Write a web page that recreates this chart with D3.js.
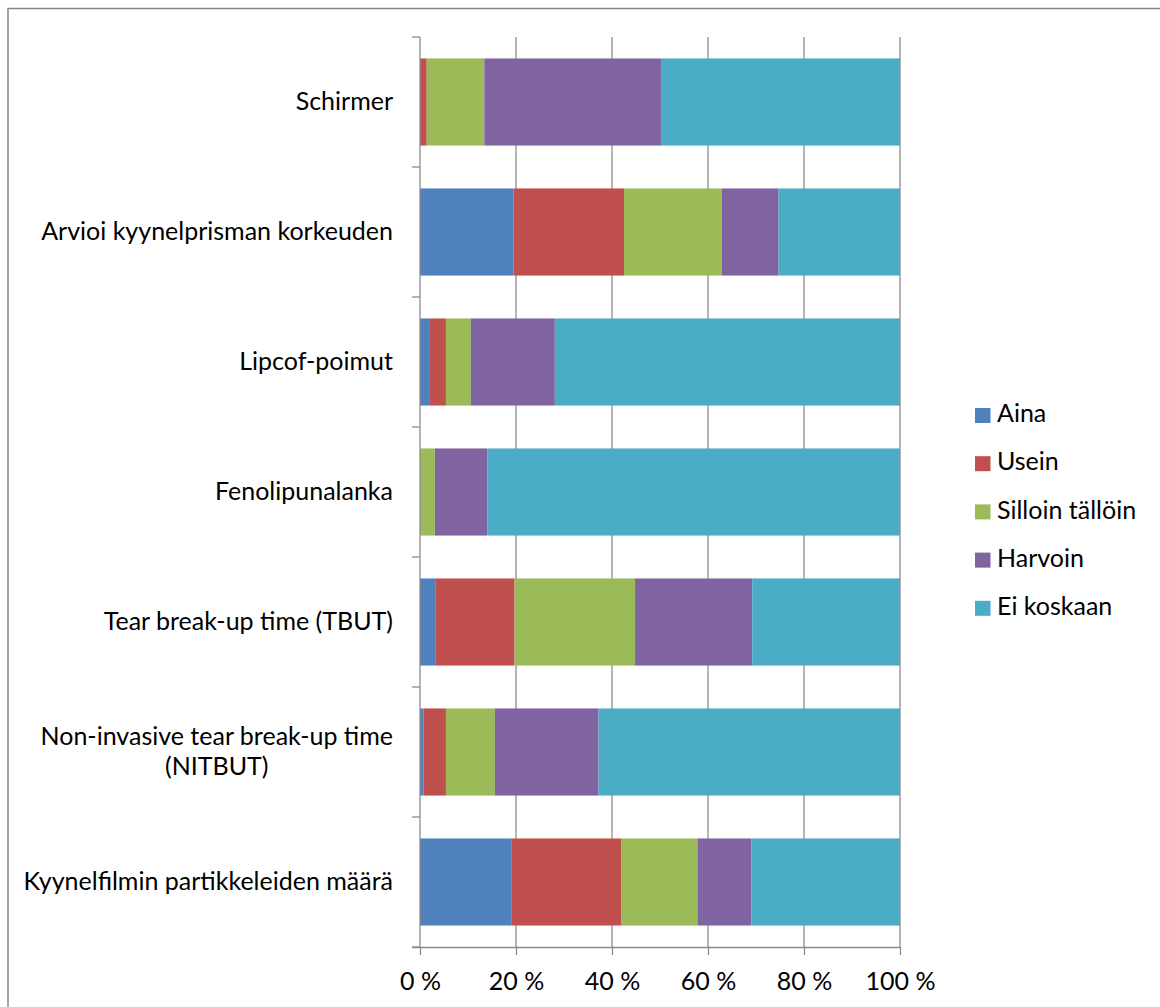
<!DOCTYPE html>
<html>
<head>
<meta charset="utf-8">
<script src="https://cdn.jsdelivr.net/npm/d3@7"></script>
<style>
  html, body { margin: 0; padding: 0; background: #fff; }
  svg { display: block; }
  text { font-family: Lato, "Open Sans", sans-serif; fill: #000; }
</style>
</head>
<body>
<script>
// Categories, top to bottom
const categories = [
  "Schirmer",
  "Arvioi kyynelprisman korkeuden",
  "Lipcof-poimut",
  "Fenolipunalanka",
  "Tear break-up time (TBUT)",
  "Non-invasive tear break-up time (NITBUT)",
  "Kyynelfilmin partikkeleiden määrä"
];
const seriesNames = ["Aina", "Usein", "Silloin tällöin", "Harvoin", "Ei koskaan"];
const seriesColors = ["#4F81BD", "#C0504D", "#9BBB59", "#8064A2", "#4BACC6"];

// Share of answers (%) per category
const aina      = [0,    19.5, 1.9,  0,    3.3,  0.7,  19.0];
const usein     = [1.4,  23.0, 3.5,  0,    16.4, 4.7,  23.0];
const silloin   = [12.0, 20.4, 5.2,  3.1,  25.1, 10.2, 15.8];
const harvoin   = [36.8, 11.8, 17.5, 10.9, 24.4, 21.6, 11.2];
const eiKoskaan = [49.8, 25.3, 71.9, 86.0, 30.8, 62.8, 31.0];

const xTicks = [0, 20, 40, 60, 80, 100];
const xTickLabels = ["0 %", "20 %", "40 %", "60 %", "80 %", "100 %"];

const seriesValues = [aina, usein, silloin, harvoin, eiKoskaan];
const rows = categories.map((c, i) => {
  const r = { category: c };
  seriesNames.forEach((s, j) => { r[s] = seriesValues[j][i]; });
  return r;
});

const W = 1160, H = 1007;
const plot = { left: 420, right: 900, top: 37, bottom: 947 };
const fontSize = 25;

const svg = d3.select("body").append("svg").attr("width", W).attr("height", H);

// chart frame
svg.append("rect")
  .attr("x", 8).attr("y", 8.5).attr("width", W + 20).attr("height", H + 20)
  .attr("fill", "#fff").attr("stroke", "#868686").attr("stroke-width", 1.5);

const x = d3.scaleLinear().domain([0, 100]).range([plot.left, plot.right]);
const y = d3.scaleBand().domain(categories).range([plot.top, plot.bottom])
  .paddingInner(0.33).paddingOuter(0.165);

const gridColor = "#8c8c8c";

// vertical gridlines
svg.append("g").selectAll("line").data(xTicks.slice(1)).join("line")
  .attr("x1", d => x(d)).attr("x2", d => x(d))
  .attr("y1", plot.top).attr("y2", plot.bottom)
  .attr("stroke", gridColor).attr("stroke-width", 1.3);

// stacked bars
const stack = d3.stack().keys(seriesNames);
const stacked = stack(rows);
svg.append("g").selectAll("g").data(stacked).join("g")
  .attr("fill", (d, i) => seriesColors[i])
  .selectAll("rect").data(d => d).join("rect")
  .attr("x", d => x(d[0]))
  .attr("width", d => x(d[1]) - x(d[0]))
  .attr("y", d => y(d.data.category))
  .attr("height", y.bandwidth());

// x axis
const xAxis = d3.axisBottom(x).tickValues(xTicks)
  .tickFormat((d, i) => xTickLabels[i]).tickSizeOuter(0).tickSize(8).tickPadding(17);
const gx = svg.append("g").attr("transform", `translate(0,${plot.bottom})`).call(xAxis);
gx.select(".domain").attr("stroke", gridColor).attr("stroke-width", 1.3)
  .attr("d", `M${plot.left - 8},0.5H${plot.right}`);
gx.selectAll(".tick line").attr("stroke", gridColor).attr("stroke-width", 1.3);
gx.selectAll(".tick text").attr("font-family", "Lato, sans-serif").attr("font-size", fontSize).attr("fill", "#000");

// y axis line with ticks at band boundaries
const yBounds = d3.range(categories.length + 1).map(i => plot.top + i * (plot.bottom - plot.top) / categories.length);
svg.append("line")
  .attr("x1", plot.left).attr("x2", plot.left)
  .attr("y1", plot.top).attr("y2", plot.bottom)
  .attr("stroke", gridColor).attr("stroke-width", 1.3);
svg.append("g").selectAll("line").data(yBounds).join("line")
  .attr("x1", plot.left - 8).attr("x2", plot.left)
  .attr("y1", d => d).attr("y2", d => d)
  .attr("stroke", gridColor).attr("stroke-width", 1.3);

// category labels (wrapped, lines centred inside a right-aligned block)
const labelRight = 393, maxLabelWidth = 385, lineHeight = 30;
const labelG = svg.append("g").attr("font-size", fontSize);
categories.forEach(c => {
  const probe = labelG.append("text").text("");
  const measure = s => { probe.text(s); return probe.node().getComputedTextLength(); };
  const words = c.split(" ");
  const lines = [];
  let cur = "";
  words.forEach(w => {
    const t = cur ? cur + " " + w : w;
    if (cur && measure(t) > maxLabelWidth) { lines.push(cur); cur = w; } else cur = t;
  });
  lines.push(cur);
  const widths = lines.map(measure);
  probe.remove();
  const blockW = d3.max(widths);
  const cy = y(c) + y.bandwidth() / 2;
  const t = labelG.append("text")
    .attr("text-anchor", "middle");
  lines.forEach((ln, i) => {
    t.append("tspan")
      .attr("x", labelRight - blockW / 2)
      .attr("y", cy + (i - (lines.length - 1) / 2) * lineHeight)
      .attr("dy", "0.3em")
      .text(ln);
  });
});

// legend
const legend = svg.append("g").attr("transform", "translate(975,415.5)");
seriesNames.forEach((s, i) => {
  const g = legend.append("g").attr("transform", `translate(0,${i * 48.2})`);
  g.append("rect").attr("x", 0).attr("y", -7.5).attr("width", 15.5).attr("height", 15)
    .attr("fill", seriesColors[i]);
  g.append("text").attr("x", 22).attr("y", 0).attr("dy", "0.27em")
    .attr("font-size", fontSize).text(s);
});
</script>
</body>
</html>
